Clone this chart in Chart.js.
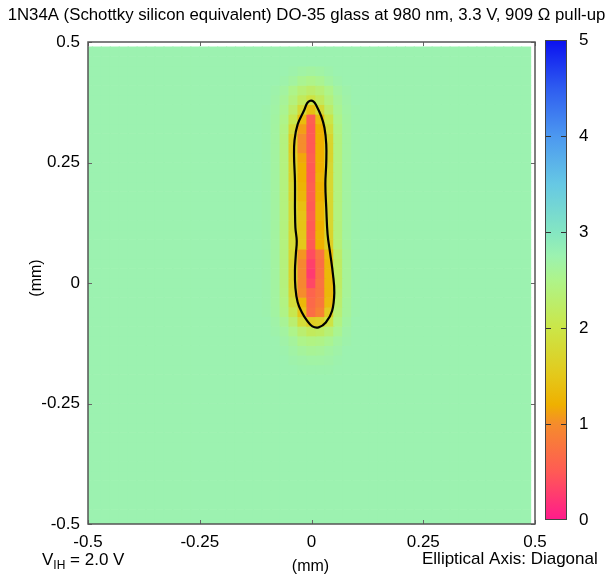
<!DOCTYPE html>
<html><head><meta charset="utf-8">
<script src="https://cdn.jsdelivr.net/npm/chart.js@4.4.1/dist/chart.umd.min.js"></script>
<style>
html,body{margin:0;padding:0;background:#fff;}
#wrap{position:relative;width:615px;height:577px;}
#main{position:absolute;left:0;top:0;}
#cbar{position:absolute;left:535px;top:0;}
</style></head><body>
<div id="wrap"><canvas id="main" width="615" height="577"></canvas><canvas id="cbar" width="80" height="577"></canvas></div>
<script>
// ---------------- data ----------------
const titleText = '1N34A (Schottky silicon equivalent) DO-35 glass at 980 nm, 3.3 V, 909 \u03A9 pull-up';
const xTickValues = [-0.5, -0.25, 0, 0.25, 0.5];
const xTickLabels = ['-0.5', '-0.25', '0', '0.25', '0.5'];
const yTickValues = [-0.5, -0.25, 0, 0.25, 0.5];
const yTickLabels = ['-0.5', '-0.25', '0', '0.25', '0.5'];
const cbTickValues = [0, 1, 2, 3, 4, 5];
const axisTitle = '(mm)';
const noteLeft = ['V', 'IH', ' = 2.0 V'];
const noteRight = 'Elliptical Axis: Diagonal';

const cellSize = 0.02;          // grid spacing (mm)
const gridStart = -0.5;         // first cell centre
const gridCount = 50;
const backgroundLevel = 2.75;   // level of the flat surrounding field

const featureCols = [-0.10, -0.08, -0.06, -0.04, -0.02, 0.00, 0.02, 0.04, 0.06, 0.08, 0.10];
const featureRows = [0.44, 0.42, 0.40, 0.38, 0.36, 0.34, 0.32, 0.30, 0.28, 0.26, 0.24, 0.22, 0.20, 0.18, 0.16, 0.14,
                     0.12, 0.10, 0.08, 0.06, 0.04, 0.02, 0.00, -0.02, -0.04, -0.06, -0.08, -0.10, -0.12, -0.14, -0.16, -0.18];
const featureValues = [
  [2.75, 2.75, 2.75, 2.72, 2.68, 2.65, 2.68, 2.72, 2.75, 2.75, 2.75],
  [2.75, 2.75, 2.72, 2.65, 2.55, 2.50, 2.55, 2.65, 2.72, 2.75, 2.75],
  [2.75, 2.72, 2.65, 2.50, 2.35, 2.25, 2.35, 2.50, 2.65, 2.72, 2.75],
  [2.75, 2.70, 2.60, 2.40, 2.15, 1.95, 2.15, 2.40, 2.60, 2.70, 2.75],
  [2.73, 2.68, 2.55, 2.25, 1.80, 1.40, 1.80, 2.25, 2.55, 2.68, 2.73],
  [2.73, 2.66, 2.50, 2.05, 1.35, 0.55, 1.35, 2.00, 2.50, 2.66, 2.73],
  [2.73, 2.65, 2.45, 1.80, 1.10, 0.50, 1.20, 1.85, 2.45, 2.65, 2.73],
  [2.73, 2.65, 2.42, 1.62, 1.00, 0.50, 1.20, 1.72, 2.42, 2.65, 2.73],
  [2.73, 2.65, 2.42, 1.60, 1.00, 0.50, 1.20, 1.70, 2.42, 2.65, 2.73],
  [2.73, 2.65, 2.42, 1.65, 1.15, 0.55, 1.20, 1.70, 2.42, 2.65, 2.73],
  [2.73, 2.65, 2.42, 1.70, 1.20, 0.50, 1.20, 1.75, 2.42, 2.65, 2.73],
  [2.73, 2.65, 2.42, 1.70, 1.20, 0.50, 1.25, 1.75, 2.42, 2.65, 2.73],
  [2.73, 2.65, 2.42, 1.75, 1.25, 0.55, 1.20, 1.75, 2.42, 2.65, 2.73],
  [2.73, 2.65, 2.42, 1.75, 1.30, 0.55, 1.20, 1.75, 2.42, 2.65, 2.73],
  [2.73, 2.65, 2.42, 1.80, 1.40, 0.50, 1.25, 1.75, 2.42, 2.65, 2.73],
  [2.73, 2.65, 2.42, 1.80, 1.45, 0.55, 1.25, 1.75, 2.42, 2.65, 2.73],
  [2.73, 2.65, 2.42, 1.80, 1.45, 0.50, 1.20, 1.75, 2.40, 2.65, 2.73],
  [2.73, 2.65, 2.42, 1.80, 1.50, 0.55, 1.25, 1.70, 2.38, 2.65, 2.73],
  [2.73, 2.65, 2.42, 1.80, 1.50, 0.50, 1.20, 1.60, 2.35, 2.62, 2.73],
  [2.73, 2.65, 2.40, 1.75, 1.05, 0.40, 0.75, 1.35, 2.25, 2.60, 2.73],
  [2.73, 2.65, 2.40, 1.70, 0.95, 0.30, 0.70, 1.30, 2.20, 2.60, 2.73],
  [2.73, 2.65, 2.40, 1.70, 0.95, 0.25, 0.70, 1.30, 2.20, 2.60, 2.73],
  [2.73, 2.65, 2.40, 1.70, 0.95, 0.35, 0.75, 1.30, 2.20, 2.60, 2.73],
  [2.73, 2.65, 2.42, 1.75, 1.00, 0.60, 0.75, 1.30, 2.25, 2.60, 2.73],
  [2.73, 2.65, 2.45, 1.85, 1.30, 0.65, 0.80, 1.35, 2.28, 2.62, 2.73],
  [2.73, 2.66, 2.48, 2.05, 1.45, 0.70, 0.90, 1.55, 2.35, 2.62, 2.73],
  [2.75, 2.70, 2.58, 2.30, 1.85, 1.60, 1.65, 1.95, 2.45, 2.66, 2.75],
  [2.75, 2.72, 2.65, 2.50, 2.30, 2.15, 2.20, 2.35, 2.55, 2.70, 2.75],
  [2.75, 2.75, 2.70, 2.62, 2.50, 2.45, 2.48, 2.55, 2.65, 2.72, 2.75],
  [2.75, 2.75, 2.73, 2.68, 2.62, 2.58, 2.60, 2.65, 2.70, 2.75, 2.75],
  [2.75, 2.75, 2.75, 2.72, 2.70, 2.68, 2.68, 2.70, 2.73, 2.75, 2.75],
  [2.75, 2.75, 2.75, 2.75, 2.73, 2.73, 2.73, 2.73, 2.75, 2.75, 2.75]
];

// contour line (mm)
const contourX = [-0.037, -0.037, -0.039, -0.038, -0.031, -0.0157, -0.0097, -0.003, 0.004, 0.0105, 0.0217, 0.029, 0.033, 0.033, 0.031, 0.033, 0.036, 0.042, 0.048, 0.051, 0.046, 0.032, 0.016, 0.002, -0.010, -0.022, -0.031, -0.036, -0.037, -0.035, -0.033, -0.036, -0.037];
const contourY = [0.156, 0.212, 0.262, 0.296, 0.329, 0.360, 0.373, 0.378, 0.377, 0.369, 0.346, 0.322, 0.288, 0.250, 0.205, 0.156, 0.101, 0.060, 0.018, -0.020, -0.058, -0.082, -0.092, -0.090, -0.078, -0.060, -0.040, -0.010, 0.025, 0.060, 0.087, 0.115, 0.156];

// colour map stops (value, colour)
const paletteValues = [0, 0.5, 1.0, 1.2, 1.5, 2.0, 2.5, 2.75, 3.0, 3.5, 4.0, 4.5, 5.0];
const paletteColors = ['#ff1a8c', '#ff5a55', '#f58c2c', '#efb000', '#e4c81a', '#cbe648', '#aef48a', '#9cf2b0', '#84e6c2', '#66c8e4', '#4c98f0', '#2e5cf0', '#0a10f0'];

// ---------------- helpers ----------------
function hexToRgb(h) { return [parseInt(h.substr(1,2),16), parseInt(h.substr(3,2),16), parseInt(h.substr(5,2),16)]; }
function colorFor(v) {
  if (v <= paletteValues[0]) return paletteColors[0];
  for (let i = 1; i < paletteValues.length; i++) {
    if (v <= paletteValues[i]) {
      const t = (v - paletteValues[i-1]) / (paletteValues[i] - paletteValues[i-1]);
      const a = hexToRgb(paletteColors[i-1]), b = hexToRgb(paletteColors[i]);
      const c = a.map((q, k) => Math.round(q + (b[k] - q) * t));
      return 'rgb(' + c.join(',') + ')';
    }
  }
  return paletteColors[paletteColors.length - 1];
}
function levelAt(x, y) {
  const ci = featureCols.findIndex(c => Math.abs(c - x) < 1e-6);
  const ri = featureRows.findIndex(r => Math.abs(r - y) < 1e-6);
  if (ci >= 0 && ri >= 0) return featureValues[ri][ci];
  return backgroundLevel;
}

const cellCentres = [];
for (let i = 0; i < gridCount; i++) cellCentres.push(+(gridStart + cellSize * i).toFixed(2));
const heatPoints = [];
for (const yc of cellCentres) for (const xc of cellCentres) heatPoints.push({ x: xc, y: yc, v: levelAt(xc, yc) });
const contourPoints = contourX.map((x, i) => ({ x: x, y: contourY[i] }));

const FONT = "'Liberation Sans', Arial, Helvetica, sans-serif";
Chart.defaults.font.family = FONT;
Chart.defaults.font.size = 17;
Chart.defaults.color = '#000';

// ---------------- main chart ----------------
const framePlugin = {
  id: 'frame',
  afterDraw(chart) {
    const { ctx, chartArea: a, scales } = chart;
    ctx.save();
    // inward ticks
    ctx.strokeStyle = '#666'; ctx.lineWidth = 1;
    xTickValues.forEach(v => {
      const px = Math.round(scales.x.getPixelForValue(v)) + 0.5;
      ctx.beginPath(); ctx.moveTo(px, a.top); ctx.lineTo(px, a.top + 4); ctx.moveTo(px, a.bottom); ctx.lineTo(px, a.bottom - 4); ctx.stroke();
    });
    yTickValues.forEach(v => {
      const py = Math.round(scales.y.getPixelForValue(v)) + 0.5;
      ctx.beginPath(); ctx.moveTo(a.left, py); ctx.lineTo(a.left + 4, py); ctx.moveTo(a.right, py); ctx.lineTo(a.right - 4, py); ctx.stroke();
    });
    ctx.strokeStyle = '#555'; ctx.lineWidth = 1.5;
    ctx.strokeRect(a.left, a.top, a.right - a.left, a.bottom - a.top);
    // title
    ctx.fillStyle = '#000';
    ctx.textAlign = 'center'; ctx.textBaseline = 'alphabetic';
    ctx.font = "16.8px " + FONT;
    ctx.fillText(titleText, 306.5, 20);
    // axis titles
    ctx.font = "16px " + FONT;
    ctx.textBaseline = 'middle';
    ctx.fillText(axisTitle, (a.left + a.right) / 2 - 1, 567);
    ctx.save(); ctx.translate(37, (a.top + a.bottom) / 2 - 5); ctx.rotate(-Math.PI / 2); ctx.fillText(axisTitle, 0, 0); ctx.restore();
    // notes
    ctx.textAlign = 'left'; ctx.textBaseline = 'alphabetic';
    let x = 42;
    ctx.font = "17px " + FONT;
    ctx.fillText(noteLeft[0], x, 565); x += ctx.measureText(noteLeft[0]).width;
    ctx.font = "12px " + FONT;
    ctx.fillText(noteLeft[1], x, 569); x += ctx.measureText(noteLeft[1]).width;
    ctx.font = "17px " + FONT;
    ctx.fillText(noteLeft[2], x, 565);
    ctx.fillText(noteRight, 422, 564);
    ctx.restore();
  }
};

new Chart(document.getElementById('main'), {
  type: 'scatter',
  data: {
    datasets: [
      { type: 'line', data: contourPoints, borderColor: '#000', borderWidth: 2.2, tension: 0.4, pointRadius: 0, fill: false, clip: 0 },
      {
        data: heatPoints, clip: 0, pointStyle: 'rect', borderWidth: 0, pointBorderWidth: 0,
        backgroundColor: c => colorFor(c.raw ? c.raw.v : backgroundLevel),
        pointBackgroundColor: c => colorFor(c.raw ? c.raw.v : backgroundLevel),
        pointRadius: c => {
          const ys = c.chart.scales.y;
          if (!ys) return 7;
          const h = Math.abs(ys.getPixelForValue(0) - ys.getPixelForValue(cellSize));
          return (h + 0.6) / (2 * Math.SQRT1_2);
        }
      }
    ]
  },
  options: {
    responsive: false, devicePixelRatio: 1, animation: false, events: [],
    layout: { padding: { top: 42, right: 80, left: 0, bottom: 0 } },
    plugins: { legend: { display: false }, tooltip: { enabled: false }, title: { display: false } },
    scales: {
      x: {
        type: 'linear', min: -0.5, max: 0.5,
        afterBuildTicks: s => { s.ticks = xTickValues.map(v => ({ value: v })); },
        afterFit: s => { s.height = 53; },
        ticks: { callback: (v, i) => xTickLabels[i], padding: 8, maxRotation: 0, font: { size: 17 }, color: '#000' },
        grid: { display: false, drawTicks: false }, border: { display: false }
      },
      y: {
        type: 'linear', min: -0.5, max: 0.5,
        afterBuildTicks: s => { s.ticks = yTickValues.map(v => ({ value: v })); },
        afterFit: s => { s.width = 88; },
        ticks: { callback: (v, i) => yTickLabels[i], padding: 8, font: { size: 17 }, color: '#000' },
        grid: { display: false, drawTicks: false }, border: { display: false }
      }
    }
  },
  plugins: [framePlugin]
});

// ---------------- colour bar ----------------
function barGradient(chart) {
  const ys = chart.scales.y;
  if (!ys || !chart.chartArea) return paletteColors[0];
  const g = chart.ctx.createLinearGradient(0, ys.getPixelForValue(cbTickValues[0]), 0, ys.getPixelForValue(cbTickValues[cbTickValues.length - 1]));
  const span = cbTickValues[cbTickValues.length - 1] - cbTickValues[0];
  paletteValues.forEach((v, i) => g.addColorStop((v - cbTickValues[0]) / span, paletteColors[i]));
  return g;
}
const cbFrame = {
  id: 'cbFrame',
  afterDraw(chart) {
    const { ctx, chartArea: a, scales } = chart;
    ctx.save();
    ctx.strokeStyle = '#333'; ctx.lineWidth = 1;
    cbTickValues.slice(1, -1).forEach(v => {
      const py = Math.round(scales.y.getPixelForValue(v)) + 0.5;
      ctx.beginPath(); ctx.moveTo(a.left, py); ctx.lineTo(a.left + 6, py); ctx.moveTo(a.right - 6, py); ctx.lineTo(a.right, py); ctx.stroke();
    });
    ctx.strokeStyle = '#444';
    ctx.strokeRect(a.left + 0.5, a.top + 0.5, a.right - a.left - 1, a.bottom - a.top - 1);
    ctx.restore();
  }
};
new Chart(document.getElementById('cbar'), {
  type: 'bar',
  data: { labels: ['level'], datasets: [{ data: [[cbTickValues[0], cbTickValues[cbTickValues.length - 1]]], backgroundColor: c => barGradient(c.chart), borderWidth: 0, barPercentage: 1, categoryPercentage: 1 }] },
  options: {
    responsive: false, devicePixelRatio: 1, animation: false, events: [],
    layout: { padding: { left: 10, top: 40, bottom: 57, right: 0 } },
    plugins: { legend: { display: false }, tooltip: { enabled: false } },
    scales: {
      x: { display: false },
      y: {
        position: 'right', min: 0, max: 5,
        afterBuildTicks: s => { s.ticks = cbTickValues.map(v => ({ value: v })); },
        afterFit: s => { s.width = 48; },
        ticks: { padding: 12, font: { size: 17 }, color: '#000' },
        grid: { display: false, drawTicks: false }, border: { display: false }
      }
    }
  },
  plugins: [cbFrame]
});
</script>
</body></html>
